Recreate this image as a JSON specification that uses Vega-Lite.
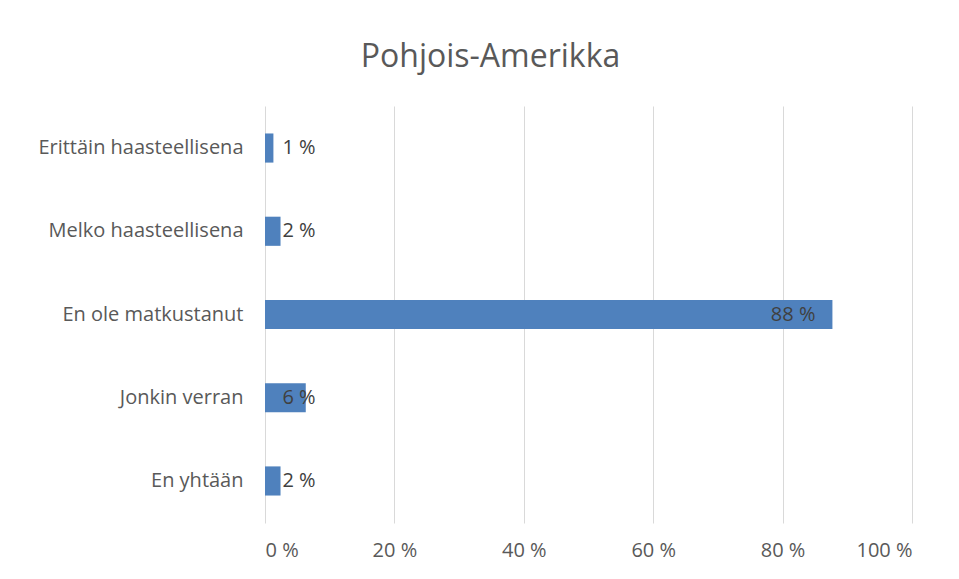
{
  "$schema": "https://vega.github.io/schema/vega-lite/v6.json",
  "autosize": "none",
  "width": 647,
  "height": 417,
  "padding": {"left": 265, "top": 106, "right": 47, "bottom": 56},
  "background": "white",
  "config": {
    "locale": {"number": {"decimal": ",", "thousands": "\u00a0", "grouping": [3], "currency": ["", "\u00a0€"], "percent": "\u00a0%"}},
    "view": {"stroke": null},
    "font": "Open Sans"
  },
  "title": {
    "text": "Pohjois-Amerikka",
    "fontSize": 32,
    "fontWeight": "normal",
    "color": "#595959",
    "font": "Open Sans",
    "anchor": "middle",
    "dx": -98,
    "offset": 32
  },
  "data": {
    "values": [
      {"category": "Erittäin haasteellisena", "value": 0.013},
      {"category": "Melko haasteellisena", "value": 0.024},
      {"category": "En ole matkustanut", "value": 0.877},
      {"category": "Jonkin verran", "value": 0.063},
      {"category": "En yhtään", "value": 0.024}
    ]
  },
  "encoding": {
    "y": {
      "field": "category",
      "type": "nominal",
      "sort": null,
      "scale": {"paddingInner": 0.65, "paddingOuter": 0.33},
      "axis": {
        "title": null,
        "domain": false,
        "ticks": false,
        "labelFontSize": 20,
        "labelColor": "#595959",
        "labelPadding": 22,
        "labelFont": "Open Sans",
        "labelLimit": 300
      }
    }
  },
  "layer": [
    {
      "mark": {"type": "bar", "color": "#4F81BD"},
      "encoding": {
        "x": {
          "field": "value",
          "type": "quantitative",
          "scale": {"domain": [0, 1]},
          "axis": {
            "title": null,
            "format": ".0%",
            "values": [0, 0.2, 0.4, 0.6, 0.8, 1],
            "domain": false,
            "ticks": false,
            "grid": true,
            "gridColor": "#D9D9D9",
            "gridWidth": 1,
            "labelFontSize": 20,
            "labelColor": "#595959",
            "labelPadding": 17,
            "labelFont": "Open Sans"
          }
        }
      }
    },
    {
      "transform": [{"filter": "datum.value < 0.5"}],
      "mark": {"type": "text", "align": "left", "baseline": "middle", "fontSize": 20, "color": "#404040", "font": "Open Sans"},
      "encoding": {
        "x": {"datum": 0.027, "type": "quantitative"},
        "text": {"field": "value", "type": "quantitative", "format": ".0%"}
      }
    },
    {
      "transform": [{"filter": "datum.value >= 0.5"}],
      "mark": {"type": "text", "align": "right", "baseline": "middle", "dx": -17, "fontSize": 20, "color": "#404040", "font": "Open Sans"},
      "encoding": {
        "x": {"field": "value", "type": "quantitative"},
        "text": {"field": "value", "type": "quantitative", "format": ".0%"}
      }
    }
  ]
}
